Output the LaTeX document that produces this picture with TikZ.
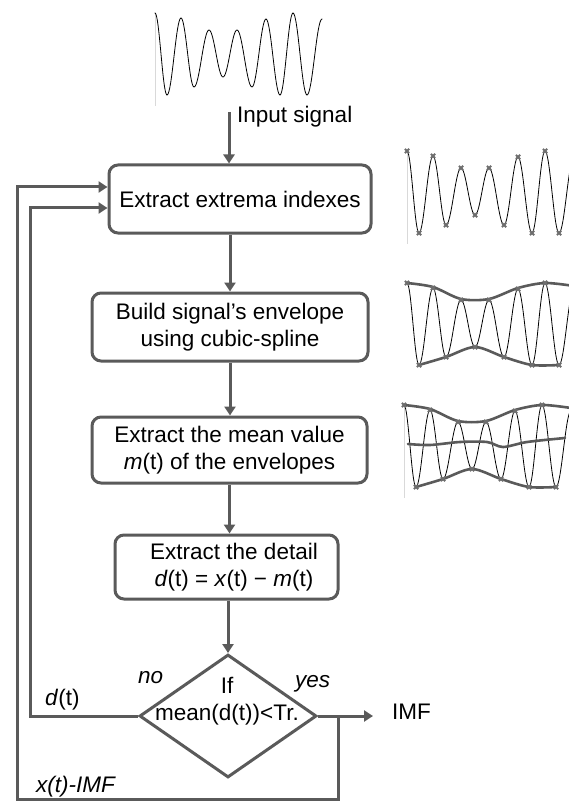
\documentclass[tikz,border=0pt]{standalone}
\usepackage{fontspec}
\setmainfont{Liberation Sans}
\usetikzlibrary{arrows.meta, shapes.geometric, calc}

\definecolor{linegray}{HTML}{5A5A5A}
\definecolor{markgray}{HTML}{6E6E6E}

% one sweep of the test signal, peak to peak
\newcommand{\wavepath}{(155,13) cos (161,54) sin (167,95) cos (174,56.5) sin (181,18)
  cos (187.5,52.5) sin (194,87) cos (201.5,58.5) sin (209,30) cos (216,53.5) sin (223,77)
  cos (230,53.5) sin (237,30) cos (244.5,58.5) sin (252,87) cos (259,53) sin (266,19)
  cos (273,57) sin (280,95) cos (286.5,54) sin (293,13) cos (300,54) sin (307,95)
  cos (314.5,57) sin (322,19)}
\newcommand{\extremamarks}{\draw[markgray, line width=1.8pt] plot[only marks, mark=x, mark size=3pt]
  coordinates {(155,13)(167,95)(181,18)(194,87)(209,30)(223,77)(237,30)(252,87)(266,19)(280,95)(293,13)(307,95)};}
\newcommand{\upperenv}{\draw[envline] plot[smooth] coordinates {(155,13)(181,17)(209,29)(237,29)(266,18)(293,13)(322,16)};}
\newcommand{\lowerenv}{\draw[envline] plot[smooth] coordinates {(167,95)(194,87)(223,77)(252,87)(280,95)(307,95)};}

\begin{document}
\begin{tikzpicture}[x=1pt, y=-1pt,
    every node/.style={font=\fontsize{22.5}{27.5}\selectfont},
    box/.style={draw=linegray, line width=3pt, rounded corners=9pt, fill=white, align=center, inner sep=0pt},
    decide/.style={diamond, draw=linegray, line width=3pt, fill=white, inner sep=0pt,
      minimum width=177pt, minimum height=123pt},
    lbl/.style={inner sep=0pt, align=center},
    arr/.style={draw=linegray, line width=3pt, -{Triangle[length=9pt, width=11pt]}},
    sigline/.style={line width=0.8pt, line cap=round},
    axisline/.style={gray!30, line width=0.5pt},
    envline/.style={draw=linegray, line width=2.6pt, line cap=round}]
  \fill[white] (0,0) rectangle (569,802);
  \useasboundingbox (0,0) rectangle (569,802);

  % input signal
  \draw[axisline] (155,13) -- (155,106);
  \draw[sigline] \wavepath;
  \node[lbl, anchor=base west] at (237,123) (insig) {Input signal};

  % signals beside the steps
  \begin{scope}
    \clip (0,0) rectangle (569,802);
    \begin{scope}[shift={(252,138)}]
      \draw[axisline] (155,13) -- (155,106);
      \draw[sigline] \wavepath;
      \extremamarks
    \end{scope}
    \begin{scope}[shift={(252,270)}]
      \draw[sigline] \wavepath;
      \upperenv
      \lowerenv
      \extremamarks
    \end{scope}
    \begin{scope}[shift={(249,392)}]
      \draw[axisline] (155,13) -- (155,106);
      \draw[sigline] \wavepath;
      \upperenv
      \lowerenv
      \draw[envline] plot[smooth] coordinates {(159,52)(181,53)(211,50)(238,50)(254,55)(278,50)(316,46)};
      \extremamarks
    \end{scope}
  \end{scope}

  % steps
  \node[box, minimum width=262pt, minimum height=68pt] at (240,199) (ext) {Extract extrema indexes};
  \node[box, minimum width=276pt, minimum height=68pt] at (230,327) (env) {Build signal’s envelope\\using cubic-spline};
  \node[box, minimum width=275pt, minimum height=66pt] at (229.5,450) (mean) {Extract the mean value\\\textit{m}(t) of the envelopes};
  \node[box, minimum width=223pt, minimum height=64pt] at (226.5,567) (det) {\hspace*{15pt}Extract the detail\\\hspace*{15pt}\textit{d}(t) = \textit{x}(t) − \textit{m}(t)};
  \node[decide] at (228,716) (dec) {};
  \node[lbl] at (227,701) (dectxt) {If\\mean(d(t))<Tr.};

  \node[lbl, anchor=base west] at (138,683) (no) {\textit{no}};
  \node[lbl, anchor=base west] at (295,687) (yes) {\textit{yes}};
  \node[lbl, anchor=base west] at (45,705) (dt) {\textit{d}(t)};
  \node[lbl, anchor=base west] at (36,792) (xi) {\textit{x(t)-IMF}};
  \node[lbl, anchor=base west] at (392,719) (imf) {IMF};

  \coordinate (intop) at (229,112);
  \coordinate (nobend) at (30,716);
  \coordinate (imfend) at (373,716);
  \coordinate (yesdrop) at (338,716);
  \coordinate (loopbot) at (17,799);

  \draw[arr] (intop) -- (intop |- ext.north);
  \draw[arr] (ext.south -| env.north) -- (env.north);
  \draw[arr] (env.south) -- (env.south |- mean.north);
  \draw[arr] (mean.south) -- (mean.south |- det.north);
  \draw[arr] (det.south -| dec.north) -- (dec.north);
  \draw[arr] (dec.west) -- (nobend) |- ([yshift=-9pt]ext.west);
  \draw[arr] (dec.east) -- (imfend);
  \draw[arr] (yesdrop) |- (loopbot) |- ([yshift=12pt]ext.west);
\end{tikzpicture}
\end{document}
